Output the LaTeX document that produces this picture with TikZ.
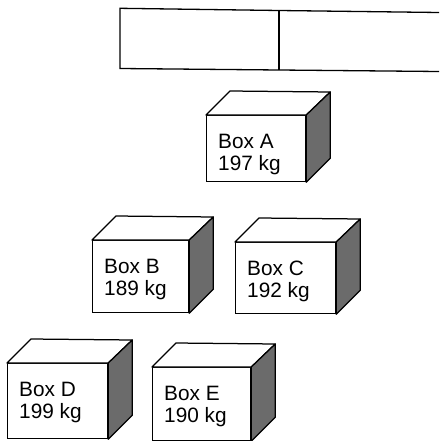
\documentclass[tikz,border=0pt]{standalone}
\usepackage{fontspec}
\setmainfont{Liberation Sans}
\begin{document}
\begin{tikzpicture}[x=1pt,y=-1pt,
  face/.style={draw=black, line width=1.25pt, fill=white, inner sep=0pt, rectangle},
  side/.style={draw=black, line width=1.25pt, fill=black!58, line join=round},
  topf/.style={draw=black, line width=1.25pt, fill=white, line join=round},
  lbl/.style={font=\fontsize{20.8}{22}\selectfont, inner sep=0pt, anchor=base west},
  frame/.style={draw=black, line width=1.3pt}]
\useasboundingbox (0,0) rectangle (439,441);
% top rectangle (open on the right)
\coordinate (r1) at (120,8.3);
\coordinate (r2) at (279,10.5);
\coordinate (r3) at (439,12.5);
\coordinate (r4) at (120,68.5);
\coordinate (r5) at (279,70);
\coordinate (r6) at (439,71.5);
\draw[frame] (r3) -- (r2) -- (r1) -- (r4) -- (r5) -- (r6);
\draw[frame] (r2) -- (r5);
% boxes: name / left / top / width / height / line1 / line2
\foreach \n/\x/\y/\w/\h/\la/\lb in {
  A/206/115/99/66/Box A/197 kg,
  B/92/240/96/72/Box B/189 kg,
  C/235/242/100/71/Box C/192 kg,
  D/7/363/100/75/Box D/199 kg,
  E/152/367/98/73/Box E/190 kg}{
  \node[face, anchor=north west, minimum width=\w pt, minimum height=\h pt] (f\n) at (\x,\y) {};
  \draw[topf] (f\n.north west) -- ++(24,-24) -- ([shift={(24,-23)}]f\n.north east) -- (f\n.north east) -- cycle;
  \draw[side] (f\n.north east) -- ++(24,-23) -- ([shift={(24,-24)}]f\n.south east) -- (f\n.south east) -- cycle;
  \node[lbl] (t\n a) at ([shift={(12,33)}]f\n.north west) {\la};
  \node[lbl] (t\n b) at ([shift={(12,55)}]f\n.north west) {\lb};
}
\end{tikzpicture}
\end{document}
